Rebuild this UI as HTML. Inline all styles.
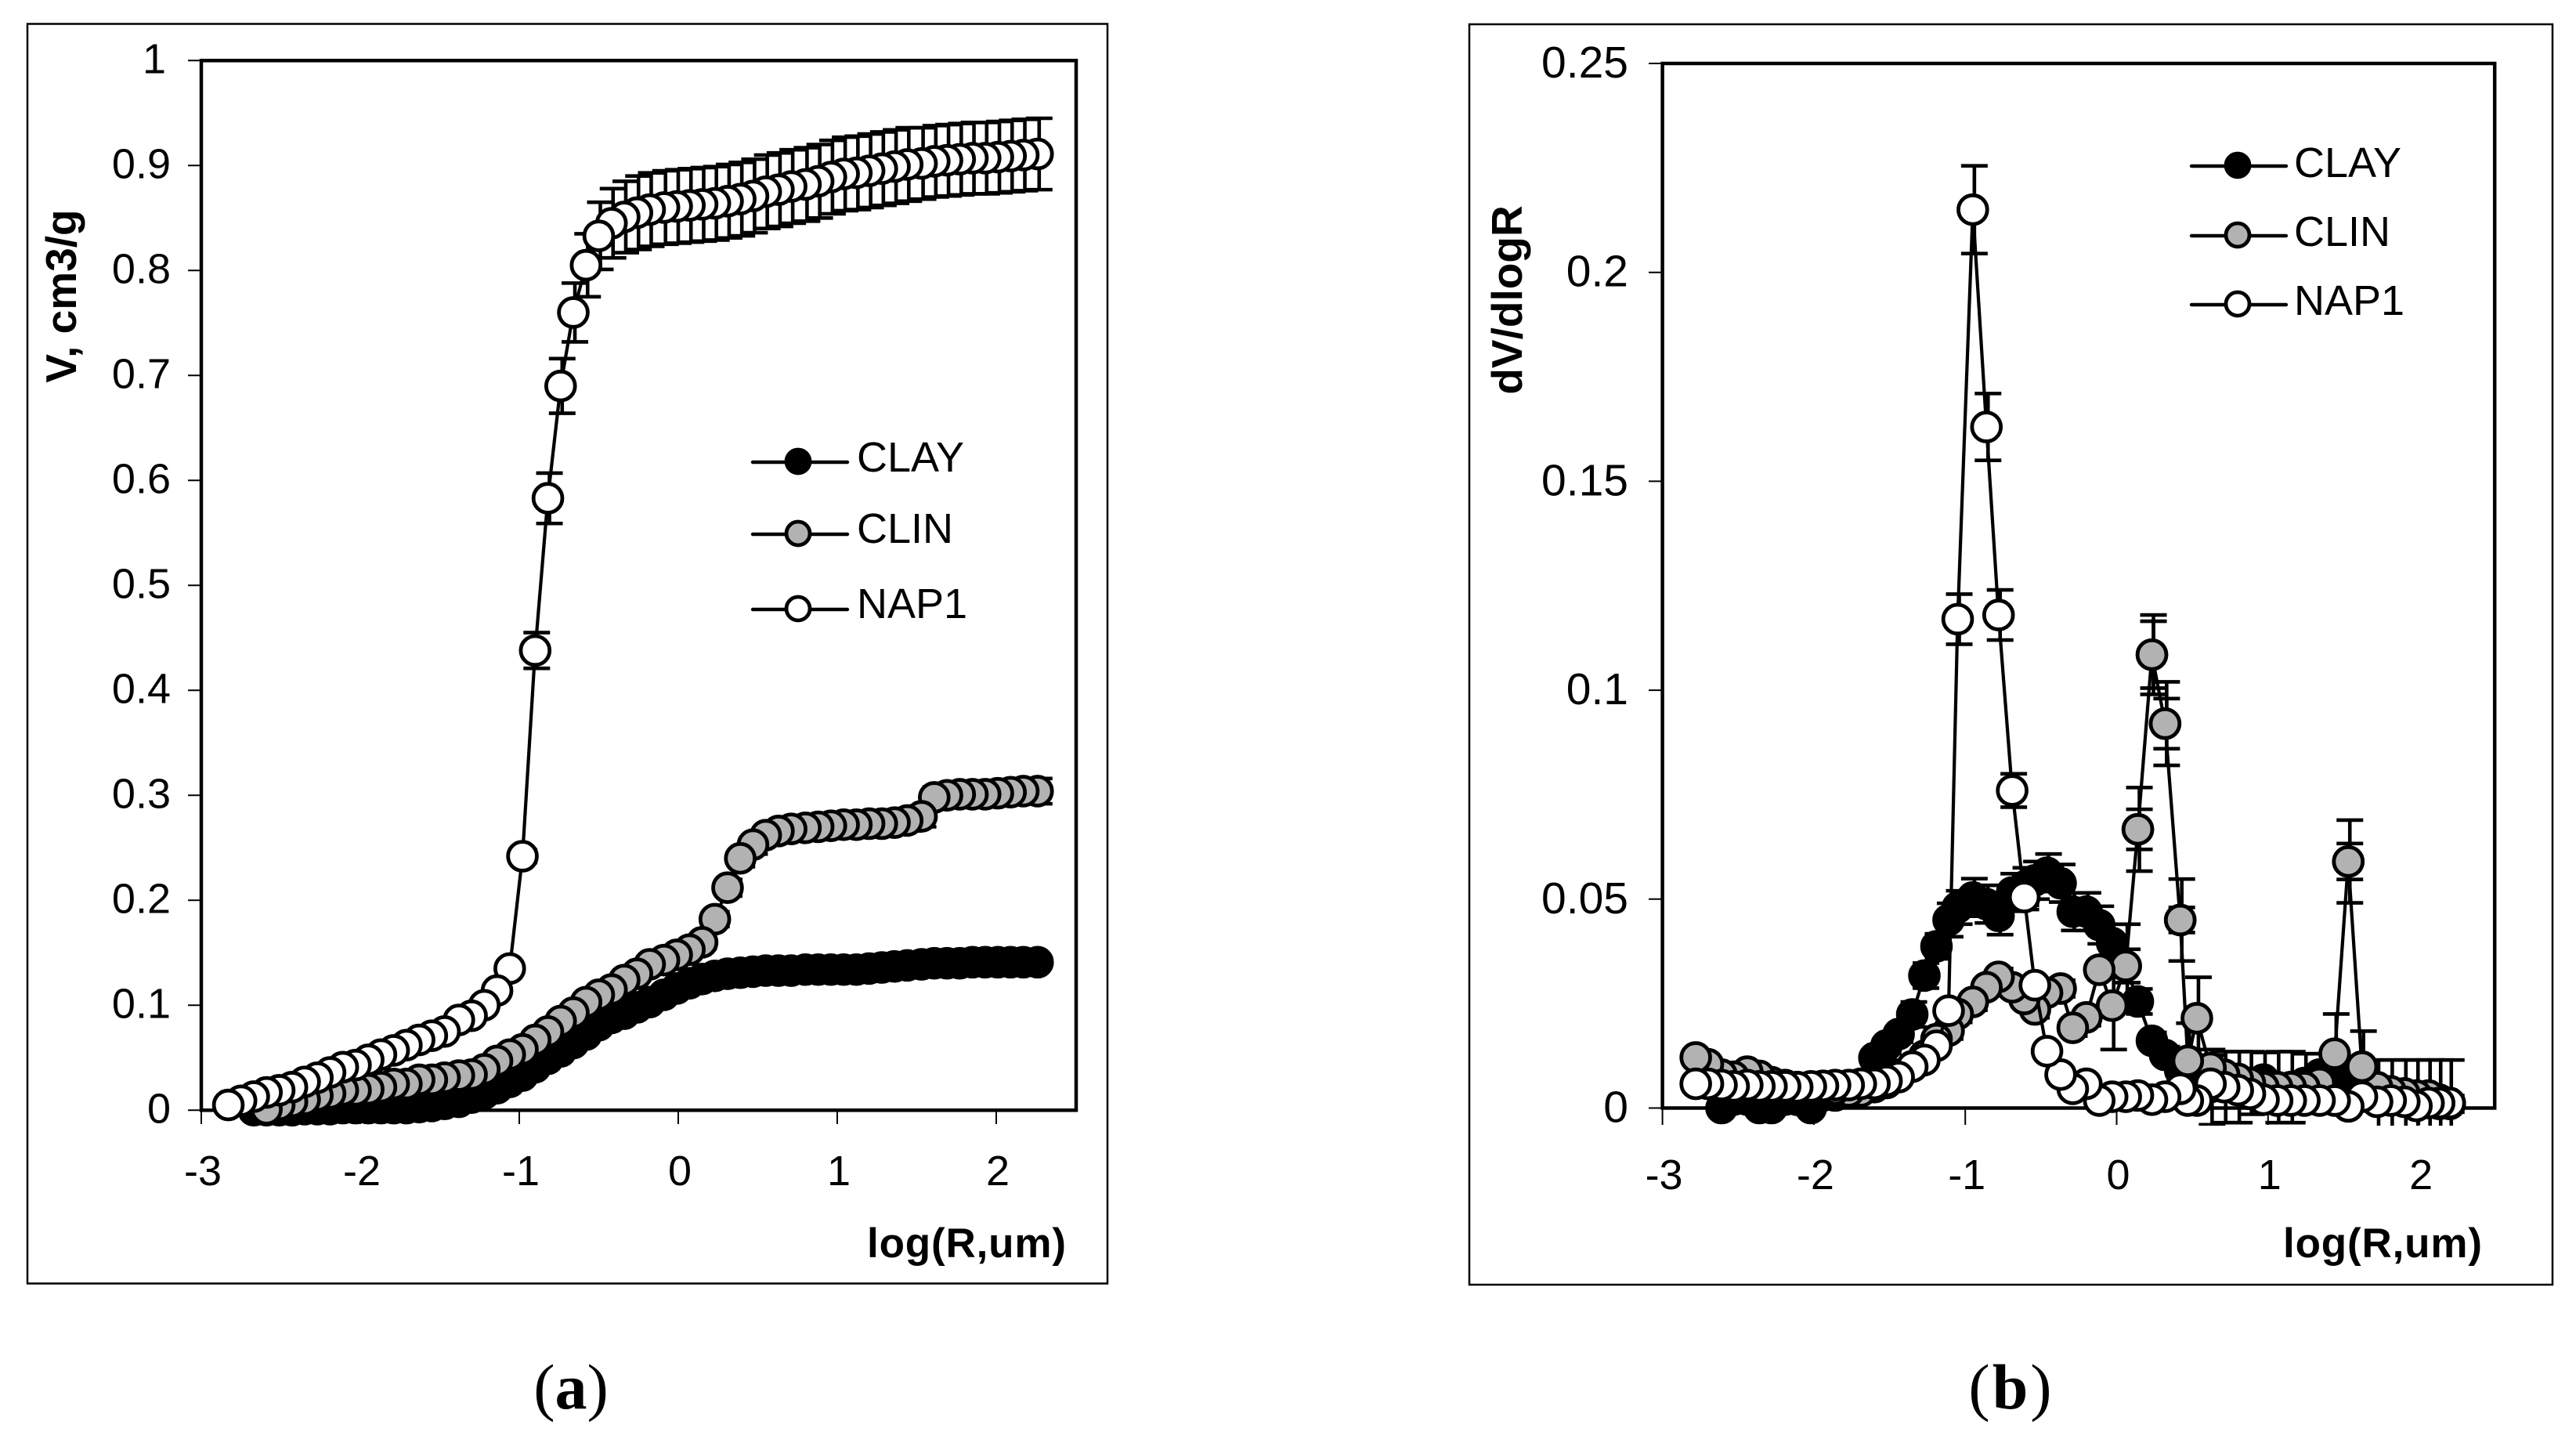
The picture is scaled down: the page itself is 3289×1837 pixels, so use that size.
<!DOCTYPE html>
<html lang="en">
<head>
<meta charset="utf-8">
<title>Pore size distributions (a) and (b)</title>
<style>
  html, body { margin: 0; padding: 0; background: #fff; }
  svg { display: block; }
  text { font-family: "Liberation Sans", sans-serif; fill: #000; }
  .cap { font-family: "Liberation Serif", serif; font-size: 82px; }
  .bold { font-weight: bold; }
</style>
</head>
<body>
<svg id="figure" xmlns="http://www.w3.org/2000/svg" width="3289" height="1837" viewBox="0 0 3289 1837">
  <defs>
    <clipPath id="clip-a"><rect x="200" y="0" width="1300" height="1437"/></clipPath>
    <clipPath id="clip-b"><rect x="2050" y="0" width="1200" height="1437"/></clipPath>
  </defs>
  <rect width="3289" height="1837" fill="#fff"/>

  <g id="panel-a">
    <rect x="35" y="30.5" width="1379" height="1608" fill="none" stroke="#000" stroke-width="2.5"/>
    <rect x="257" y="77.3" width="1117" height="1340" fill="none" stroke="#000" stroke-width="4.5"/>
    <text class="bold" font-size="55" text-anchor="middle" transform="translate(97 378) rotate(-90)">V, cm3/g</text>
    <text class="bold" font-size="53" x="1107" y="1605" textLength="254" lengthAdjust="spacing">log(R,um)</text>
  </g>

  <g id="panel-b">
    <rect x="1876" y="31" width="1383" height="1609" fill="none" stroke="#000" stroke-width="2.5"/>
    <rect x="2122.6" y="81" width="1062.6" height="1333.5" fill="none" stroke="#000" stroke-width="4.5"/>
    <text class="bold" font-size="55" text-anchor="middle" transform="translate(1943 383) rotate(-90)">dV/dlogR</text>
    <text class="bold" font-size="53" x="2915" y="1605" textLength="254" lengthAdjust="spacing">log(R,um)</text>
  </g>

  <text class="cap" x="729" y="1798" text-anchor="middle">(<tspan font-weight="bold">a</tspan>)</text>
  <text class="cap" x="2568" y="1798" text-anchor="middle" letter-spacing="3">(<tspan font-weight="bold">b</tspan>)</text>
</svg>

<script>
// ---------- shared ----------
const xTickValues = [-3, -2, -1, 0, 1, 2];
const xTickLabels = ["-3", "-2", "-1", "0", "1", "2"];
const legendLabels = ["CLAY", "CLIN", "NAP1"];
const seriesFills = ["#000000", "#b2b2b2", "#ffffff"];

// ---------- panel (a): cumulative volume ----------
const yTickValuesA = [0, 0.1, 0.2, 0.3, 0.4, 0.5, 0.6, 0.7, 0.8, 0.9, 1];
const yTickLabelsA = ["0", "0.1", "0.2", "0.3", "0.4", "0.5", "0.6", "0.7", "0.8", "0.9", "1"];
const logRA = [-2.83,-2.75,-2.67,-2.59,-2.51,-2.43,-2.35,-2.27,-2.19,-2.11,-2.03,-1.95,-1.87,-1.79,-1.71,-1.63,
  -1.55,-1.47,-1.38,-1.30,-1.22,-1.14,-1.06,-0.98,-0.90,-0.82,-0.74,-0.66,-0.58,-0.50,-0.42,-0.34,
  -0.26,-0.18,-0.09,-0.01,0.07,0.15,0.23,0.31,0.39,0.47,0.55,0.63,0.71,0.80,0.88,0.96,
  1.04,1.12,1.20,1.28,1.36,1.44,1.53,1.61,1.69,1.77,1.85,1.93,2.01,2.09,2.17,2.26];
const clayA = [null,null,0,0,0,0,.001,.001,.001,.002,.002,.002,.002,.002,.002,.003,
  .004,.006,.008,.012,.016,.021,.027,.033,.041,.049,.056,.064,.072,.081,.088,.092,
  .098,.103,.110,.116,.121,.125,.128,.130,.131,.132,.133,.133,.133,.134,.134,.134,
  .134,.134,.135,.136,.137,.138,.139,.140,.140,.140,.141,.141,.141,.141,.141,.141];
const clayErrA = [0,0,.001,.001,.001,.001,.001,.001,.001,.001,.001,.001,.001,.001,.001,.001,
  .001,.002,.002,.002,.002,.003,.003,.003,.003,.003,.003,.003,.003,.003,.003,.003,
  .003,.003,.003,.003,.003,.003,.003,.003,.003,.003,.003,.003,.003,.003,.003,.003,
  .003,.003,.003,.003,.003,.003,.003,.003,.003,.003,.003,.003,.003,.003,.003,.003];
const clinA = [null,null,null,.001,.005,.008,.010,.014,.016,.019,.019,.020,.022,.025,.025,.029,
  .029,.031,.033,.034,.039,.047,.053,.058,.067,.075,.085,.093,.103,.110,.115,.124,
  .130,.139,.143,.148,.153,.160,.182,.212,.240,.253,.262,.266,.268,.269,.270,.271,
  .272,.272,.273,.273,.274,.276,.280,.298,.300,.301,.301,.301,.302,.303,.304,.304];
const clinErrA = [0,0,0,.002,.002,.002,.002,.002,.002,.002,.002,.002,.002,.002,.002,.002,
  .003,.003,.003,.003,.003,.003,.003,.003,.004,.004,.004,.004,.004,.004,.004,.004,
  .004,.004,.005,.005,.006,.006,.007,.008,.008,.009,.009,.009,.009,.009,.009,.009,
  .010,.010,.010,.010,.010,.010,.010,.010,.011,.011,.011,.011,.012,.012,.012,.012];
const nap1A = [.005,.009,.013,.017,.019,.022,.027,.031,.036,.041,.043,.048,.053,.057,.062,.067,
  .071,.075,.086,.090,.100,.114,.135,.242,.438,.583,.690,.760,.805,.833,.845,.851,
  .855,.858,.860,.861,.862,.863,.864,.866,.868,.871,.875,.877,.880,.882,.885,.889,
  .892,.893,.895,.897,.899,.901,.902,.904,.905,.906,.907,.907,.908,.909,.910,.911];
const nap1ErrA = [.001,.001,.001,.001,.001,.001,.001,.002,.002,.002,.002,.002,.002,.002,.002,.003,
  .003,.003,.003,.003,.003,.004,.004,.006,.017,.024,.026,.028,.030,.032,.033,.034,
  .035,.035,.035,.035,.035,.035,.035,.035,.035,.035,.035,.035,.035,.035,.035,.035,
  .035,.035,.035,.035,.035,.035,.034,.034,.034,.034,.034,.034,.034,.034,.034,.034];

// ---------- panel (b): dV/dlogR ----------
const yTickValuesB = [0, 0.05, 0.1, 0.15, 0.2, 0.25];
const yTickLabelsB = ["0", "0.05", "0.1", "0.15", "0.2", "0.25"];
const logRB = [-2.78,-2.70,-2.61,-2.53,-2.44,-2.36,-2.28,-2.19,-2.11,-2.02,-1.94,-1.86,-1.77,-1.69,-1.60,
  -1.52,-1.44,-1.35,-1.27,-1.19,-1.11,-1.05,-0.95,-0.86,-0.78,-0.69,-0.61,-0.54,-0.46,-0.37,
  -0.29,-0.20,-0.115,-0.03,0.06,0.14,0.233,0.32,0.42,0.47,0.53,0.62,0.71,0.80,0.88,
  0.97,1.06,1.15,1.24,1.34,1.44,1.53,1.62,1.72,1.81,1.90,1.98,2.06,2.13,2.20];
const clayB = [null,null,0,.002,.002,0,0,.002,.002,0,.003,.003,.004,.005,.012,
  .015,.0177,.0224,.0317,.0387,.045,.048,.0504,.0488,.046,.0516,.053,.0545,.0563,.0538,
  .047,.047,.0438,.0395,.034,.0255,.0161,.0127,.009,.007,.006,.005,.005,.005,.006,
  .0068,.005,.005,.006,.008,.007,.007,.006,.003,.002,.002,.002,.002,.001,.001];
const clayErrB = [0,0,.001,.001,.001,.001,.001,.001,.001,.001,.001,.001,.001,.001,.002,
  .002,.002,.003,.003,.003,.004,.004,.0045,.0045,.0045,.0045,.0045,.0045,.0045,.0045,
  .0045,.0045,.0045,.0045,.004,.003,.002,.002,.002,.003,.006,.009,.0085,.0085,.0075,
  .0065,.0085,.0085,.007,.005,.005,.005,.0055,.0085,.0095,.0095,.0095,.0095,.0105,.0105];
const clinB = [.0121,.0105,.008,.0075,.0087,.0077,.0062,.0055,.005,.005,.005,.0045,.004,.004,.005,
  .006,.008,.010,.0125,.0165,.0185,.0225,.0254,.0289,.0314,.0289,.0261,.0236,.0276,.0286,
  .0192,.0217,.0331,.0245,.034,.0667,.1085,.092,.045,.0113,.0215,.0096,.008,.007,.006,
  .005,.005,.005,.005,.006,.013,.059,.0099,.005,.004,.0035,.003,.003,.002,.001];
const clinErrB = [.001,.001,.001,.001,.001,.001,.001,.001,.001,.001,.001,.001,.001,.001,.001,
  .001,.001,.002,.002,.002,.002,.002,.002,.002,.002,.002,.002,.002,.002,.002,
  .002,.002,.002,.0105,.010,.010,.0095,.010,.0098,.009,.0098,.003,.002,.002,.002,
  .002,.002,.002,.002,.002,.0095,.0099,.0085,.002,.002,.002,.002,.002,.002,.002];
const nap1B = [.0058,.0058,.0055,.0052,.0055,.0052,.0052,.0052,.005,.0052,.0053,.0055,.0055,.0058,.0058,
  .0065,.0074,.0099,.0115,.0149,.0233,.117,.215,.163,.118,.076,.0505,.0294,.0136,.008,
  .0046,.0058,.0018,.0027,.0027,.003,.002,.0027,.0046,.0018,.0018,.0058,.005,.0043,.0034,
  .002,.0018,.0018,.0018,.0018,.0018,.0004,.0027,.0015,.0018,.0015,.0005,.0012,.0012,.0012];
const nap1ErrB = [.001,.001,.001,.001,.001,.001,.001,.001,.001,.001,.001,.001,.001,.001,.001,
  .001,.001,.001,.001,.001,.001,.006,.0105,.008,.006,.004,.003,.001,.001,.001,
  .001,.001,.001,.001,.001,.001,.001,.001,.001,.001,.001,.001,.001,.001,.001,
  .001,.001,.001,.001,.001,.001,.001,.001,.001,.001,.001,.001,.001,.001,.001];
const clinInnerX = [0.14, 0.233, 0.32, 0.42, 1.53];
const clinInnerY = [0.0667, 0.1085, 0.092, 0.045, 0.059];
const clinInnerErr = [0.0048, 0.008, 0.006, 0.003, 0.0043];

// ---------- axis functions ----------
const xScaleA = v => 257 + (v + 3) * 203;
const yScaleA = v => 1417.3 - v * 1340;
const xScaleB = v => 2122.6 + (v + 3) * 193.3;
const yScaleB = v => 1414.5 - v * 5334;

const NS = "http://www.w3.org/2000/svg";
function shape(parent, tag, attrs) {
  const node = document.createElementNS(NS, tag);
  for (const k in attrs) node.setAttribute(k, attrs[k]);
  parent.appendChild(node);
  return node;
}

function drawAxes(root, prefix, xFn, yFn, yVals, yLabels, yLabelX, yFont, yDrop, tickLeft, tickBottom, xLabelY) {
  yVals.forEach((v, i) => {
    const t = shape(root, "line", { x1: tickLeft, x2: xFn(-3), y1: yFn(v), y2: yFn(v), stroke: "#000", "stroke-width": 2 });
    
    
    const lab = shape(root, "text", { x: yLabels[i] === "1" ? yLabelX - 6 : yLabelX, y: yFn(v) + yDrop, "text-anchor": "end", "font-size": yFont });
    lab.textContent = yLabels[i];
    
    
  });
  xTickValues.forEach((v, i) => {
    const t = shape(root, "line", { x1: xFn(v), x2: xFn(v), y1: yFn(0), y2: tickBottom, stroke: "#000", "stroke-width": 2 });
    
    
    const lab = shape(root, "text", { x: xFn(v) + 2, y: xLabelY, "text-anchor": "middle", "font-size": 54 });
    lab.textContent = xTickLabels[i];
    
    
  });
}

function drawErrorBar(parent, prefix, px, yHi, yLo) {
  const stem = shape(parent, "line", { x1: px + 2, x2: px + 2, y1: yHi, y2: yLo, stroke: "#000", "stroke-width": 4.6 });
  
  
  [yHi, yLo].forEach(py => {
    const c = shape(parent, "line", { x1: px - 15, x2: px + 19, y1: py, y2: py, stroke: "#000", "stroke-width": 4.6 });
    
    
  });
}

function drawSeries(root, prefix, clipId, xs, ys, errs, fill, xFn, yFn) {
  const g = shape(root, "g", {});
  
  

  const pts = [];
  xs.forEach((x, i) => { if (ys[i] !== null) pts.push(xFn(x).toFixed(1) + "," + yFn(ys[i]).toFixed(1)); });
  const line = shape(g, "polyline", { points: pts.join(" "), fill: "none", stroke: "#000", "stroke-width": 4.2, "stroke-linejoin": "round" });
  
  

  const eg = shape(g, "g", { "clip-path": "url(#" + clipId + ")" });
  
  
  xs.forEach((x, i) => {
    if (ys[i] === null || !errs[i]) return;
    drawErrorBar(eg, prefix, xFn(x), yFn(ys[i] + errs[i]), yFn(ys[i] - errs[i]));
  });

  for (let i = xs.length - 1; i >= 0; i--) {
    if (ys[i] === null) continue;
    const m = shape(g, "circle", { cx: xFn(xs[i]), cy: yFn(ys[i]), r: 18.4, fill: fill, stroke: "#000", "stroke-width": 4.8 });
    
    
  }
  return g;
}

function drawLegend(root, prefix, lineX1, lineX2, markerX, textX, rowYs, baseYs) {
  legendLabels.forEach((label, i) => {
    const g = shape(root, "g", {});
    
    
    const l = shape(g, "line", { x1: lineX1, x2: lineX2, y1: rowYs[i], y2: rowYs[i], stroke: "#000", "stroke-width": 4.4, "stroke-linecap": "round" });
    
    
    const m = shape(g, "circle", { cx: markerX, cy: rowYs[i] - 1, r: 15, fill: seriesFills[i], stroke: "#000", "stroke-width": 4.8 });
    
    
    const t = shape(g, "text", { x: textX, y: baseYs[i], "font-size": 54 });
    t.textContent = label;
    
    
  });
}

// ---------- panel (a) drawing ----------
const rootA = document.getElementById("panel-a");
drawAxes(rootA, "panel-a", xScaleA, yScaleA, yTickValuesA, yTickLabelsA, 218, 54, 16, 240, 1435, 1513);
drawSeries(rootA, "panel-a-clay", "clip-a", logRA, clayA, clayErrA, seriesFills[0], xScaleA, yScaleA);
drawSeries(rootA, "panel-a-clin", "clip-a", logRA, clinA, clinErrA, seriesFills[1], xScaleA, yScaleA);
drawSeries(rootA, "panel-a-nap1", "clip-a", logRA, nap1A, nap1ErrA, seriesFills[2], xScaleA, yScaleA);
drawLegend(rootA, "panel-a", 961, 1082, 1019, 1094, [590, 682, 778], [602, 693, 789]);

// ---------- panel (b) drawing ----------
const rootB = document.getElementById("panel-b");
drawAxes(rootB, "panel-b", xScaleB, yScaleB, yTickValuesB, yTickLabelsB, 2079, 57, 18, 2105, 1436, 1518);
drawSeries(rootB, "panel-b-clay", "clip-b", logRB, clayB, clayErrB, seriesFills[0], xScaleB, yScaleB);
drawSeries(rootB, "panel-b-clin", "clip-b", logRB, clinB, clinErrB, seriesFills[1], xScaleB, yScaleB);
const innerBars = shape(rootB, "g", {});


clinInnerX.forEach((x, i) => {
  drawErrorBar(innerBars, "panel-b-clin-inner", xScaleB(x), yScaleB(clinInnerY[i] + clinInnerErr[i]), yScaleB(clinInnerY[i] - clinInnerErr[i]));
});
clinInnerX.forEach((x, i) => {
  const m = shape(innerBars, "circle", { cx: xScaleB(x), cy: yScaleB(clinInnerY[i]), r: 18.4, fill: seriesFills[1], stroke: "#000", "stroke-width": 4.8 });
  
  
});
drawSeries(rootB, "panel-b-nap1", "clip-b", logRB, nap1B, nap1ErrB, seriesFills[2], xScaleB, yScaleB);
drawLegend(rootB, "panel-b", 2798, 2919, 2857, 2929, [212, 301, 389], [226, 314, 402]);
</script>
</body>
</html>
